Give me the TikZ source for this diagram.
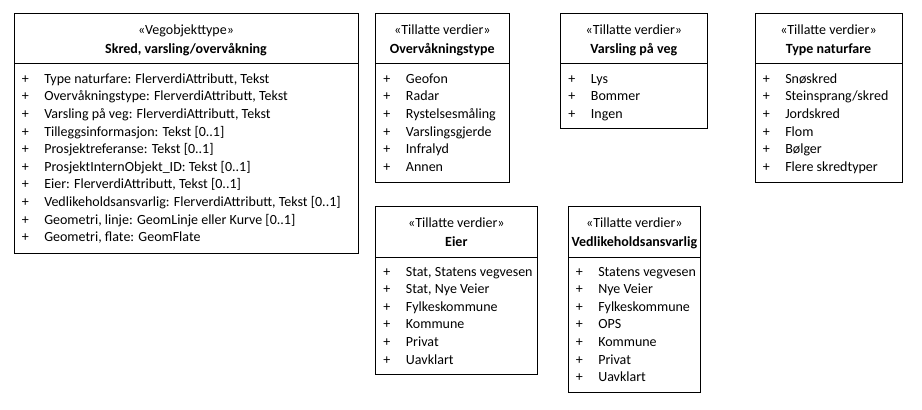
\documentclass[tikz,border=0pt]{standalone}
\usepackage{fontspec}
\setmainfont{Carlito}
\newcommand\umlclass[8]{%
  \draw[box] (#2,#3) rectangle (#4,#5);
  \draw[box] (#2,#6) -- (#4,#6);
  \node[ctr] (#1-st) at ({(#2+#4)/2},{#3+21}) {«#7»};
  \node[ctr,font=\fontsize{10.5}{13}\selectfont\bfseries] (#1-ti) at ({(#2+#4)/2},{#3+39.5}) {#8};
}
\newcommand\umlitems[4]{% name, x1, y-top, list
  \foreach \t [count=\i] in {#4} {
    \node[txt] (#1-p\i) at ({#2+7.5},{#3+69.3+(\i-1)*17.6}) {+};
    \node[txt] (#1-a\i) at ({#2+30},{#3+69.3+(\i-1)*17.6}) {\t};
  }
}
\begin{document}
\begin{tikzpicture}[x=0.75pt,y=-0.75pt,
  font=\fontsize{10.5}{13}\selectfont,
  box/.style={draw=black, line width=0.75pt},
  txt/.style={inner sep=0pt, anchor=base west},
  ctr/.style={inner sep=0pt, anchor=base}]
\useasboundingbox[fill=white] (0,0) rectangle (922,410);

\umlclass{skred}{14}{14}{358}{253}{64}{Vegobjekttype}{Skred, varsling/overvåkning}
\umlitems{skred}{14}{14}{
  {Type naturfare: FlerverdiAttributt, Tekst},
  {Overvåkningstype: FlerverdiAttributt, Tekst},
  {Varsling på veg: FlerverdiAttributt, Tekst},
  {Tilleggsinformasjon: Tekst [0..1]},
  {Prosjektreferanse: Tekst [0..1]},
  {ProsjektInternObjekt\_ID: Tekst [0..1]},
  {Eier: FlerverdiAttributt, Tekst [0..1]},
  {Vedlikeholdsansvarlig: FlerverdiAttributt, Tekst [0..1]},
  {Geometri, linje: GeomLinje eller Kurve [0..1]},
  {Geometri, flate: GeomFlate}}

\umlclass{overv}{375.7}{14}{509}{182}{64}{Tillatte verdier}{Overvåkningstype}
\umlitems{overv}{375.7}{14}{Geofon, Radar, Rystelsesmåling, Varslingsgjerde, Infralyd, Annen}

\umlclass{varsl}{560.7}{14}{707}{129}{64}{Tillatte verdier}{Varsling på veg}
\umlitems{varsl}{560.7}{14}{Lys, Bommer, Ingen}

\umlclass{natur}{755}{14}{902}{182}{64}{Tillatte verdier}{Type naturfare}
\umlitems{natur}{755}{14}{Snøskred, Steinsprang/skred, Jordskred, Flom, Bølger, Flere skredtyper}

\umlclass{eier}{375.7}{206.7}{537}{374}{257}{Tillatte verdier}{Eier}
\umlitems{eier}{375.7}{206.7}{{Stat, Statens vegvesen}, {Stat, Nye Veier}, Fylkeskommune, Kommune, Privat, Uavklart}

\umlclass{vedl}{568}{206.7}{700.7}{392}{257}{Tillatte verdier}{Vedlikeholdsansvarlig}
\umlitems{vedl}{568}{206.7}{Statens vegvesen, Nye Veier, Fylkeskommune, OPS, Kommune, Privat, Uavklart}
\end{tikzpicture}
\end{document}
